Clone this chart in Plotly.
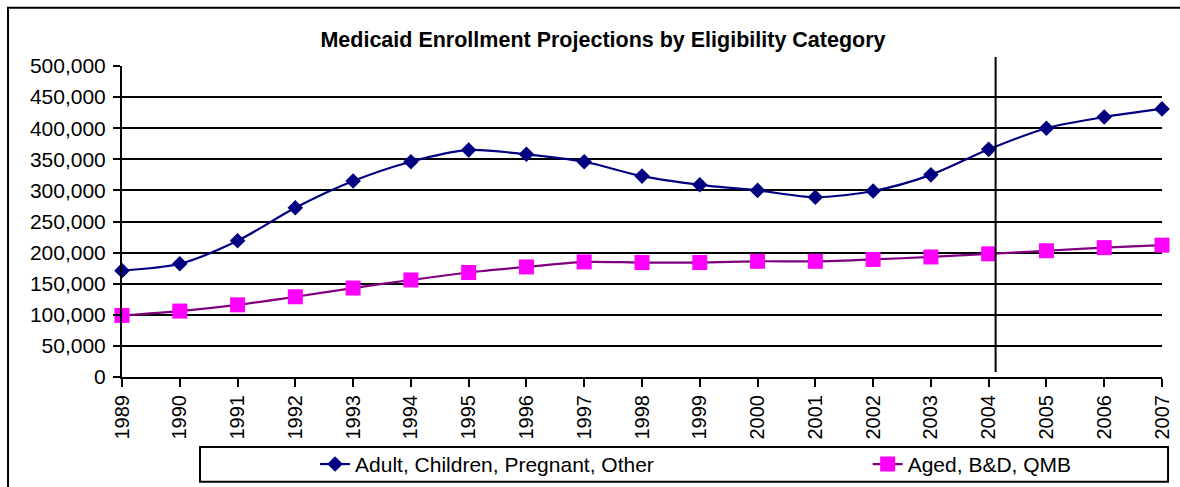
import plotly.graph_objects as go

# Enrollment by eligibility category, 1989-2007
years = list(range(1989, 2008))
adult_children = [171000, 182000, 219000, 272000, 315000, 346000, 365000, 358000, 346000, 323000,
                  309000, 300000, 289000, 299000, 325000, 366000, 400000, 418000, 431000]
aged_bd_qmb = [99000, 106000, 116000, 129000, 143000, 156000, 168000, 177000, 185000, 184000,
               184000, 186000, 186000, 189000, 193000, 198000, 203000, 208000, 212000]

y_ticks = list(range(0, 500001, 50000))
y_tick_text = [f"{v:,}" for v in y_ticks]
projection_start = 2004.12

FONT = "Liberation Sans, Arial, sans-serif"

fig = go.Figure()
fig.add_trace(go.Scatter(
    x=years, y=adult_children, name="Adult, Children, Pregnant, Other",
    mode="lines+markers",
    line=dict(color="#000080", width=2.2, shape="spline", smoothing=0.8),
    marker=dict(symbol="diamond", size=12, color="#000080"),
    cliponaxis=False, legend="legend",
))
fig.add_trace(go.Scatter(
    x=years, y=aged_bd_qmb, name="Aged, B&D, QMB",
    mode="lines+markers",
    line=dict(color="#800080", width=2.2, shape="spline", smoothing=0.8),
    marker=dict(symbol="square", size=15, color="#FF00FF"),
    cliponaxis=False, legend="legend2",
))

shapes = [
    # projection divider
    dict(type="line", xref="x", yref="paper", x0=projection_start, x1=projection_start,
         y0=0.016, y1=1.029, line=dict(color="black", width=2), layer="above"),
    # legend frame
    dict(type="rect", xref="paper", yref="paper", x0=0.075, x1=1.0058, y0=-0.225, y1=-0.337,
         line=dict(color="black", width=2)),
    # chart frame
    dict(type="rect", xref="paper", yref="paper", x0=-0.1096, x1=1.03, y0=1.187, y1=-0.39,
         line=dict(color="black", width=2)),
]

legend_common = dict(orientation="h", xanchor="left", y=-0.281, yanchor="middle",
                     bgcolor="rgba(0,0,0,0)", borderwidth=0,
                     font=dict(family=FONT, size=21, color="black"))

fig.update_layout(
    width=1180, height=487,
    margin=dict(l=122, r=18, t=66, b=110, autoexpand=False),
    paper_bgcolor="white", plot_bgcolor="white",
    font=dict(family=FONT, size=20, color="black"),
    title=dict(text="<b>Medicaid Enrollment Projections by Eligibility Category</b>",
               xref="container", x=0.511, xanchor="center", y=0.918, yanchor="middle",
               font=dict(family=FONT, size=21.5, color="black")),
    showlegend=True,
    legend=dict(x=0.1856, **legend_common),
    legend2=dict(x=0.717, **legend_common),
    shapes=shapes,
    xaxis=dict(range=[1989, 2007], tickmode="array", tickvals=years,
               ticktext=[str(y) for y in years], tickangle=-90,
               showgrid=False, zeroline=False,
               showline=True, linecolor="black", linewidth=2,
               ticks="outside", ticklen=8, tickwidth=2, tickcolor="black",
               tickfont=dict(family=FONT, size=20, color="black")),
    yaxis=dict(range=[0, 500000], tickmode="array", tickvals=y_ticks, ticktext=y_tick_text,
               showgrid=True, gridcolor="black", gridwidth=2, zeroline=False,
               showline=True, linecolor="black", linewidth=2,
               ticks="outside", ticklen=7, tickwidth=2, tickcolor="black",
               ticklabelstandoff=3,
               tickfont=dict(family=FONT, size=21, color="black")),
)

fig.write_html("out.html")
